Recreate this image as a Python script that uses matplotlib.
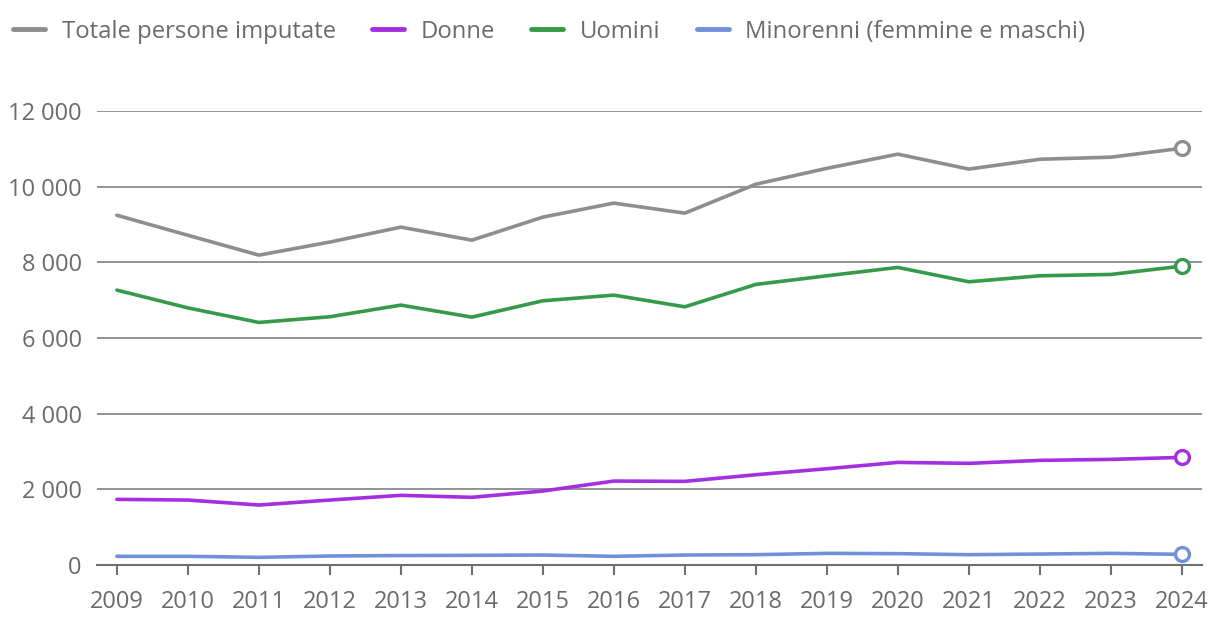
import numpy as np
import matplotlib.pyplot as plt
from matplotlib.ticker import FuncFormatter

plt.rcParams['font.family'] = ['Open Sans', 'DejaVu Sans']

anni = list(range(2009, 2025))
totale = [9250, 8720, 8195, 8540, 8935, 8590, 9200, 9570, 9305, 10070, 10490, 10865, 10470, 10730, 10785, 11020]
donne = [1736, 1718, 1586, 1718, 1842, 1790, 1956, 2220, 2212, 2387, 2546, 2714, 2688, 2767, 2793, 2846]
uomini = [7270, 6800, 6415, 6565, 6873, 6555, 6987, 7137, 6828, 7420, 7648, 7869, 7490, 7648, 7684, 7904]
minorenni = [230, 230, 203, 238, 250, 256, 264, 230, 264, 273, 308, 300, 273, 290, 308, 282]

serie = [
    ("Totale persone imputate", totale, "#8e8e8e"),
    ("Donne", donne, "#a42fe0"),
    ("Uomini", uomini, "#359a4a"),
    ("Minorenni (femmine e maschi)", minorenni, "#7090dc"),
]

testo = "#6b6b6b"
fig = plt.figure(figsize=(12.2, 6.32), dpi=100)
ax = fig.add_axes([0.0795, 0.106, 0.9055, 0.718])

for nome, valori, col in serie:
    ax.plot(anni, valori, color=col, lw=2.6, label=nome, solid_capstyle='round', zorder=3)
    ax.plot(anni[-1], valori[-1], 'o', ms=10, mfc='white', mec=col, mew=2.4, zorder=4, clip_on=False)

ax.set_xlim(2008.72, 2024.28)
ax.set_ylim(0, 12000)
ax.set_yticks(range(0, 12001, 2000))
ax.yaxis.set_major_formatter(FuncFormatter(lambda v, p: f"{int(v):,}".replace(",", " ")))
ax.set_xticks(anni)
ax.grid(axis='y', color='#8a8a8a', lw=1.3)
ax.set_axisbelow(True)
for s in ['top', 'right', 'left']:
    ax.spines[s].set_visible(False)
ax.spines['bottom'].set_color('#707070')
ax.spines['bottom'].set_linewidth(1.5)
ax.tick_params(axis='y', length=0, pad=11, labelsize=17, labelcolor=testo)
ax.tick_params(axis='x', length=7, width=1.5, color='#707070', pad=11, labelsize=17, labelcolor=testo)

leg = fig.legend(loc='upper left', bbox_to_anchor=(-0.007, 1.003), ncol=4, frameon=False,
                 fontsize=17.2, handlelength=1.35, handletextpad=0.7, columnspacing=1.5)
for t in leg.get_texts():
    t.set_color(testo)
for h in leg.get_lines():
    h.set_linewidth(3.5)

fig.savefig("out.png", dpi=100)
